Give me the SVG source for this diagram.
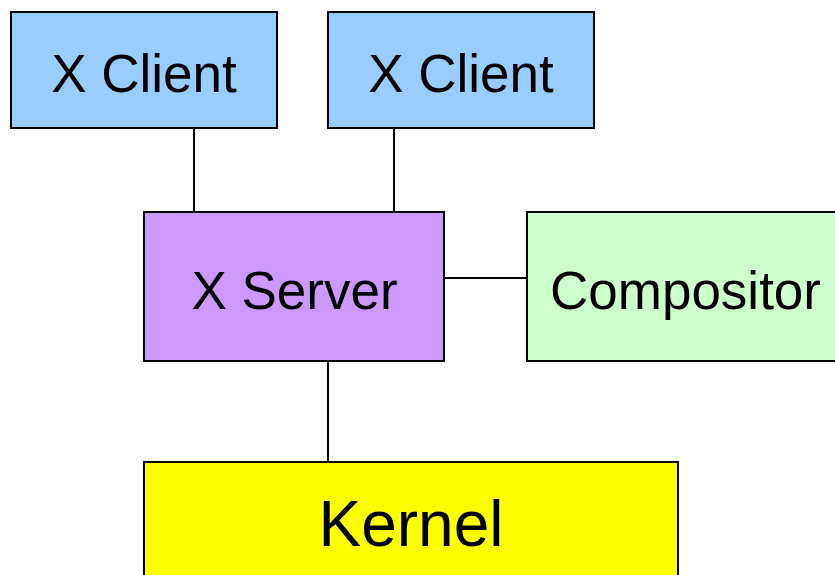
<svg xmlns="http://www.w3.org/2000/svg" width="835" height="575" viewBox="0 0 835 575">
<style>
.box{stroke:#000;stroke-width:2}
.lbl{font-family:"Liberation Sans",Arial,sans-serif;font-size:53px;text-anchor:middle;fill:#000}
.conn line{stroke:#000;stroke-width:2}
</style>
<rect width="835" height="575" fill="#fff"/>
<g class="conn" id="connectors">
<line x1="194" y1="128" x2="194" y2="212"/>
<line x1="394" y1="128" x2="394" y2="212"/>
<line x1="444" y1="278" x2="527" y2="278"/>
<line x1="328" y1="361" x2="328" y2="462"/>
</g>
<g id="xclient1">
<rect class="box" x="11" y="12" width="266" height="116" fill="#99ccff"/>
<text class="lbl" x="144" y="92">X Client</text>
</g>
<g id="xclient2">
<rect class="box" x="328" y="12" width="266" height="116" fill="#99ccff"/>
<text class="lbl" x="461" y="92">X Client</text>
</g>
<g id="xserver">
<rect class="box" x="144" y="212" width="300" height="149" fill="#cc99ff"/>
<text class="lbl" x="294.5" y="309">X Server</text>
</g>
<g id="compositor">
<rect class="box" x="527" y="212" width="320" height="149" fill="#ccffcc"/>
<text class="lbl" x="685.5" y="309">Compositor</text>
</g>
<g id="kernel">
<rect class="box" x="144" y="462" width="534" height="130" fill="#ffff00"/>
<text class="lbl" x="411" y="546" style="font-size:64px">Kernel</text>
</g>
</svg>
